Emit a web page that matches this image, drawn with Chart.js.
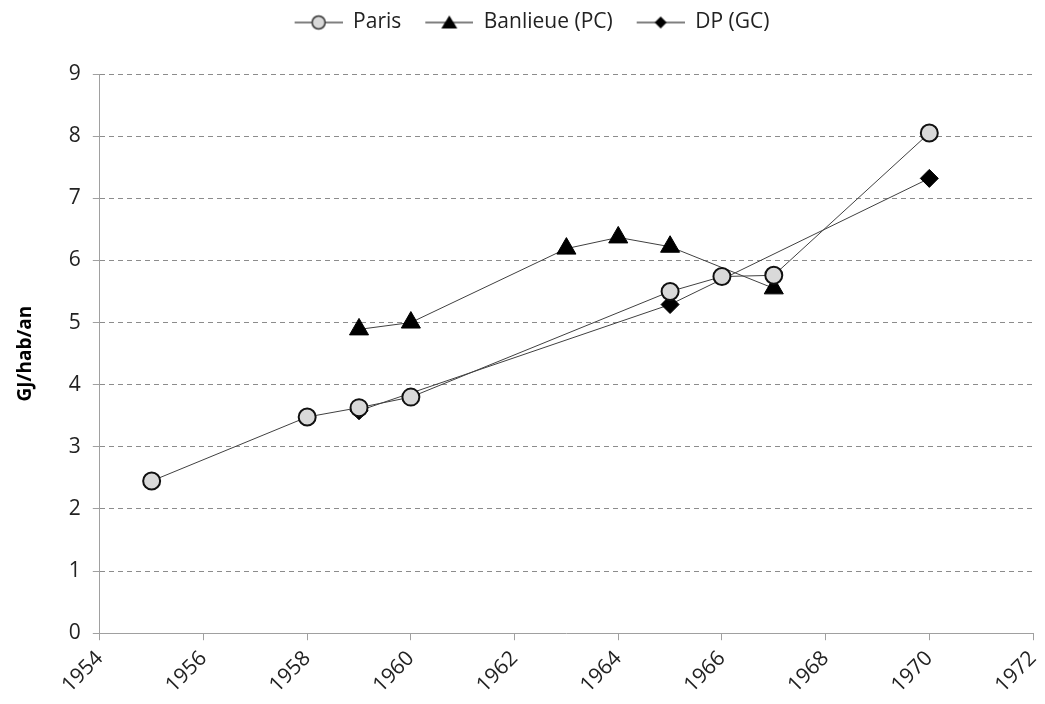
<!DOCTYPE html>
<html>
<head>
<meta charset="utf-8">
<script src="https://cdn.jsdelivr.net/npm/chart.js@4"></script>
<style>
  html, body { margin: 0; padding: 0; background: #fff; }
  #wrap { width: 1045px; height: 704px; }
</style>
</head>
<body>
<div id="wrap"><canvas id="lineChart"></canvas></div>
<script>
// données
const parisYears = [1955, 1958, 1959, 1960, 1965, 1966, 1967, 1970];
const parisValues = [2.45, 3.48, 3.63, 3.80, 5.50, 5.74, 5.76, 8.05];
const banlieueYears = [1959, 1960, 1963, 1964, 1965, 1967];
const banlieueValues = [4.89, 5.00, 6.19, 6.37, 6.22, 5.55];
const dpYears = [1959, 1965, 1970];
const dpValues = [3.58, 5.29, 7.32];
const seriesNames = ['Paris', 'Banlieue (PC)', 'DP (GC)'];

const toPoints = (xs, ys) => xs.map((x, i) => ({ x: x, y: ys[i] }));
const FONT = 'Open Sans';

// petite icône de légende : trait + marqueur (marge vide à gauche = espacement)
function legendIcon(style) {
  const c = document.createElement('canvas');
  c.width = 60; c.height = 20;
  const g = c.getContext('2d');
  const cx = 36, cy = 10;
  g.strokeStyle = '#000'; g.lineWidth = 1;
  g.beginPath(); g.moveTo(12, cy); g.lineTo(60, cy); g.stroke();
  if (style === 'circle') {
    g.beginPath(); g.arc(cx, cy, 6.5, 0, Math.PI * 2);
    g.fillStyle = '#d9d9d9'; g.fill(); g.lineWidth = 1.5; g.strokeStyle = '#333'; g.stroke();
  } else if (style === 'triangle') {
    g.beginPath(); g.moveTo(cx, cy - 7); g.lineTo(cx + 8, cy + 6); g.lineTo(cx - 8, cy + 6); g.closePath();
    g.fillStyle = '#000'; g.fill();
  } else {
    g.beginPath(); g.moveTo(cx, cy - 6); g.lineTo(cx + 6, cy); g.lineTo(cx, cy + 6); g.lineTo(cx - 6, cy); g.closePath();
    g.fillStyle = '#000'; g.fill();
  }
  return c;
}
const icons = [legendIcon('circle'), legendIcon('triangle'), legendIcon('rectRot')];

const ctx = document.getElementById('lineChart').getContext('2d');
new Chart(ctx, {
  type: 'scatter',
  data: {
    datasets: [
      {
        label: seriesNames[0],
        data: toPoints(parisYears, parisValues),
        showLine: true,
        borderColor: '#404040',
        borderWidth: 1,
        pointStyle: 'circle',
        pointRadius: 8.5,
        pointBackgroundColor: '#d9d9d9',
        pointBorderColor: '#111',
        pointBorderWidth: 2
      },
      {
        label: seriesNames[1],
        data: toPoints(banlieueYears, banlieueValues),
        showLine: true,
        borderColor: '#404040',
        borderWidth: 1,
        pointStyle: 'triangle',
        pointRadius: 11,
        pointBackgroundColor: '#000',
        pointBorderColor: '#000',
        pointBorderWidth: 1
      },
      {
        label: seriesNames[2],
        data: toPoints(dpYears, dpValues),
        showLine: true,
        borderColor: '#404040',
        borderWidth: 1,
        pointStyle: 'rectRot',
        pointRadius: 9,
        pointBackgroundColor: '#000',
        pointBorderColor: '#000',
        pointBorderWidth: 1
      }
    ]
  },
  options: {
    responsive: true,
    maintainAspectRatio: false,
    animation: false,
    layout: { padding: { left: 10, right: 3, top: 0, bottom: 0 } },
    plugins: {
      tooltip: { enabled: false },
      legend: {
        position: 'top',
        labels: {
          usePointStyle: true,
          pointStyleWidth: 60,
          padding: 12,
          color: '#222',
          font: { family: FONT, size: 21 },
          generateLabels: (chart) => chart.data.datasets.map((ds, i) => ({
            text: ds.label,
            pointStyle: icons[i],
            datasetIndex: i,
            fontColor: '#222',
            lineWidth: 0
          }))
        }
      }
    },
    scales: {
      x: {
        type: 'linear',
        min: 1954,
        max: 1972,
        border: { color: '#a0a0a0' },
        grid: { drawOnChartArea: false, drawTicks: true, tickLength: 7, color: '#a0a0a0' },
        afterFit: (scale) => { scale.paddingRight = 0; },
        ticks: {
          stepSize: 2,
          maxRotation: 45,
          minRotation: 45,
          padding: 6,
          color: '#222',
          font: { family: FONT, size: 21 },
          callback: (v) => String(v)
        }
      },
      y: {
        min: 0,
        max: 9,
        border: { color: '#a0a0a0', dash: [5, 4] },
        grid: { color: '#8c8c8c', tickLength: 7, tickColor: '#a0a0a0' },
        ticks: {
          stepSize: 1,
          color: '#222',
          padding: 12,
          font: { family: FONT, size: 21 }
        },
        title: {
          display: true,
          text: 'GJ/hab/an',
          color: '#000',
          padding: { top: 4, bottom: 20 },
          font: { family: FONT, size: 19, weight: 'bold' }
        }
      }
    }
  },
  plugins: [{
    // espace sous la légende
    id: 'legendGap',
    beforeInit(chart) {
      const fit = chart.legend.fit;
      chart.legend.fit = function () {
        fit.bind(chart.legend)();
        this.height += 31;
      };
    }
  }]
});
</script>
</body>
</html>
